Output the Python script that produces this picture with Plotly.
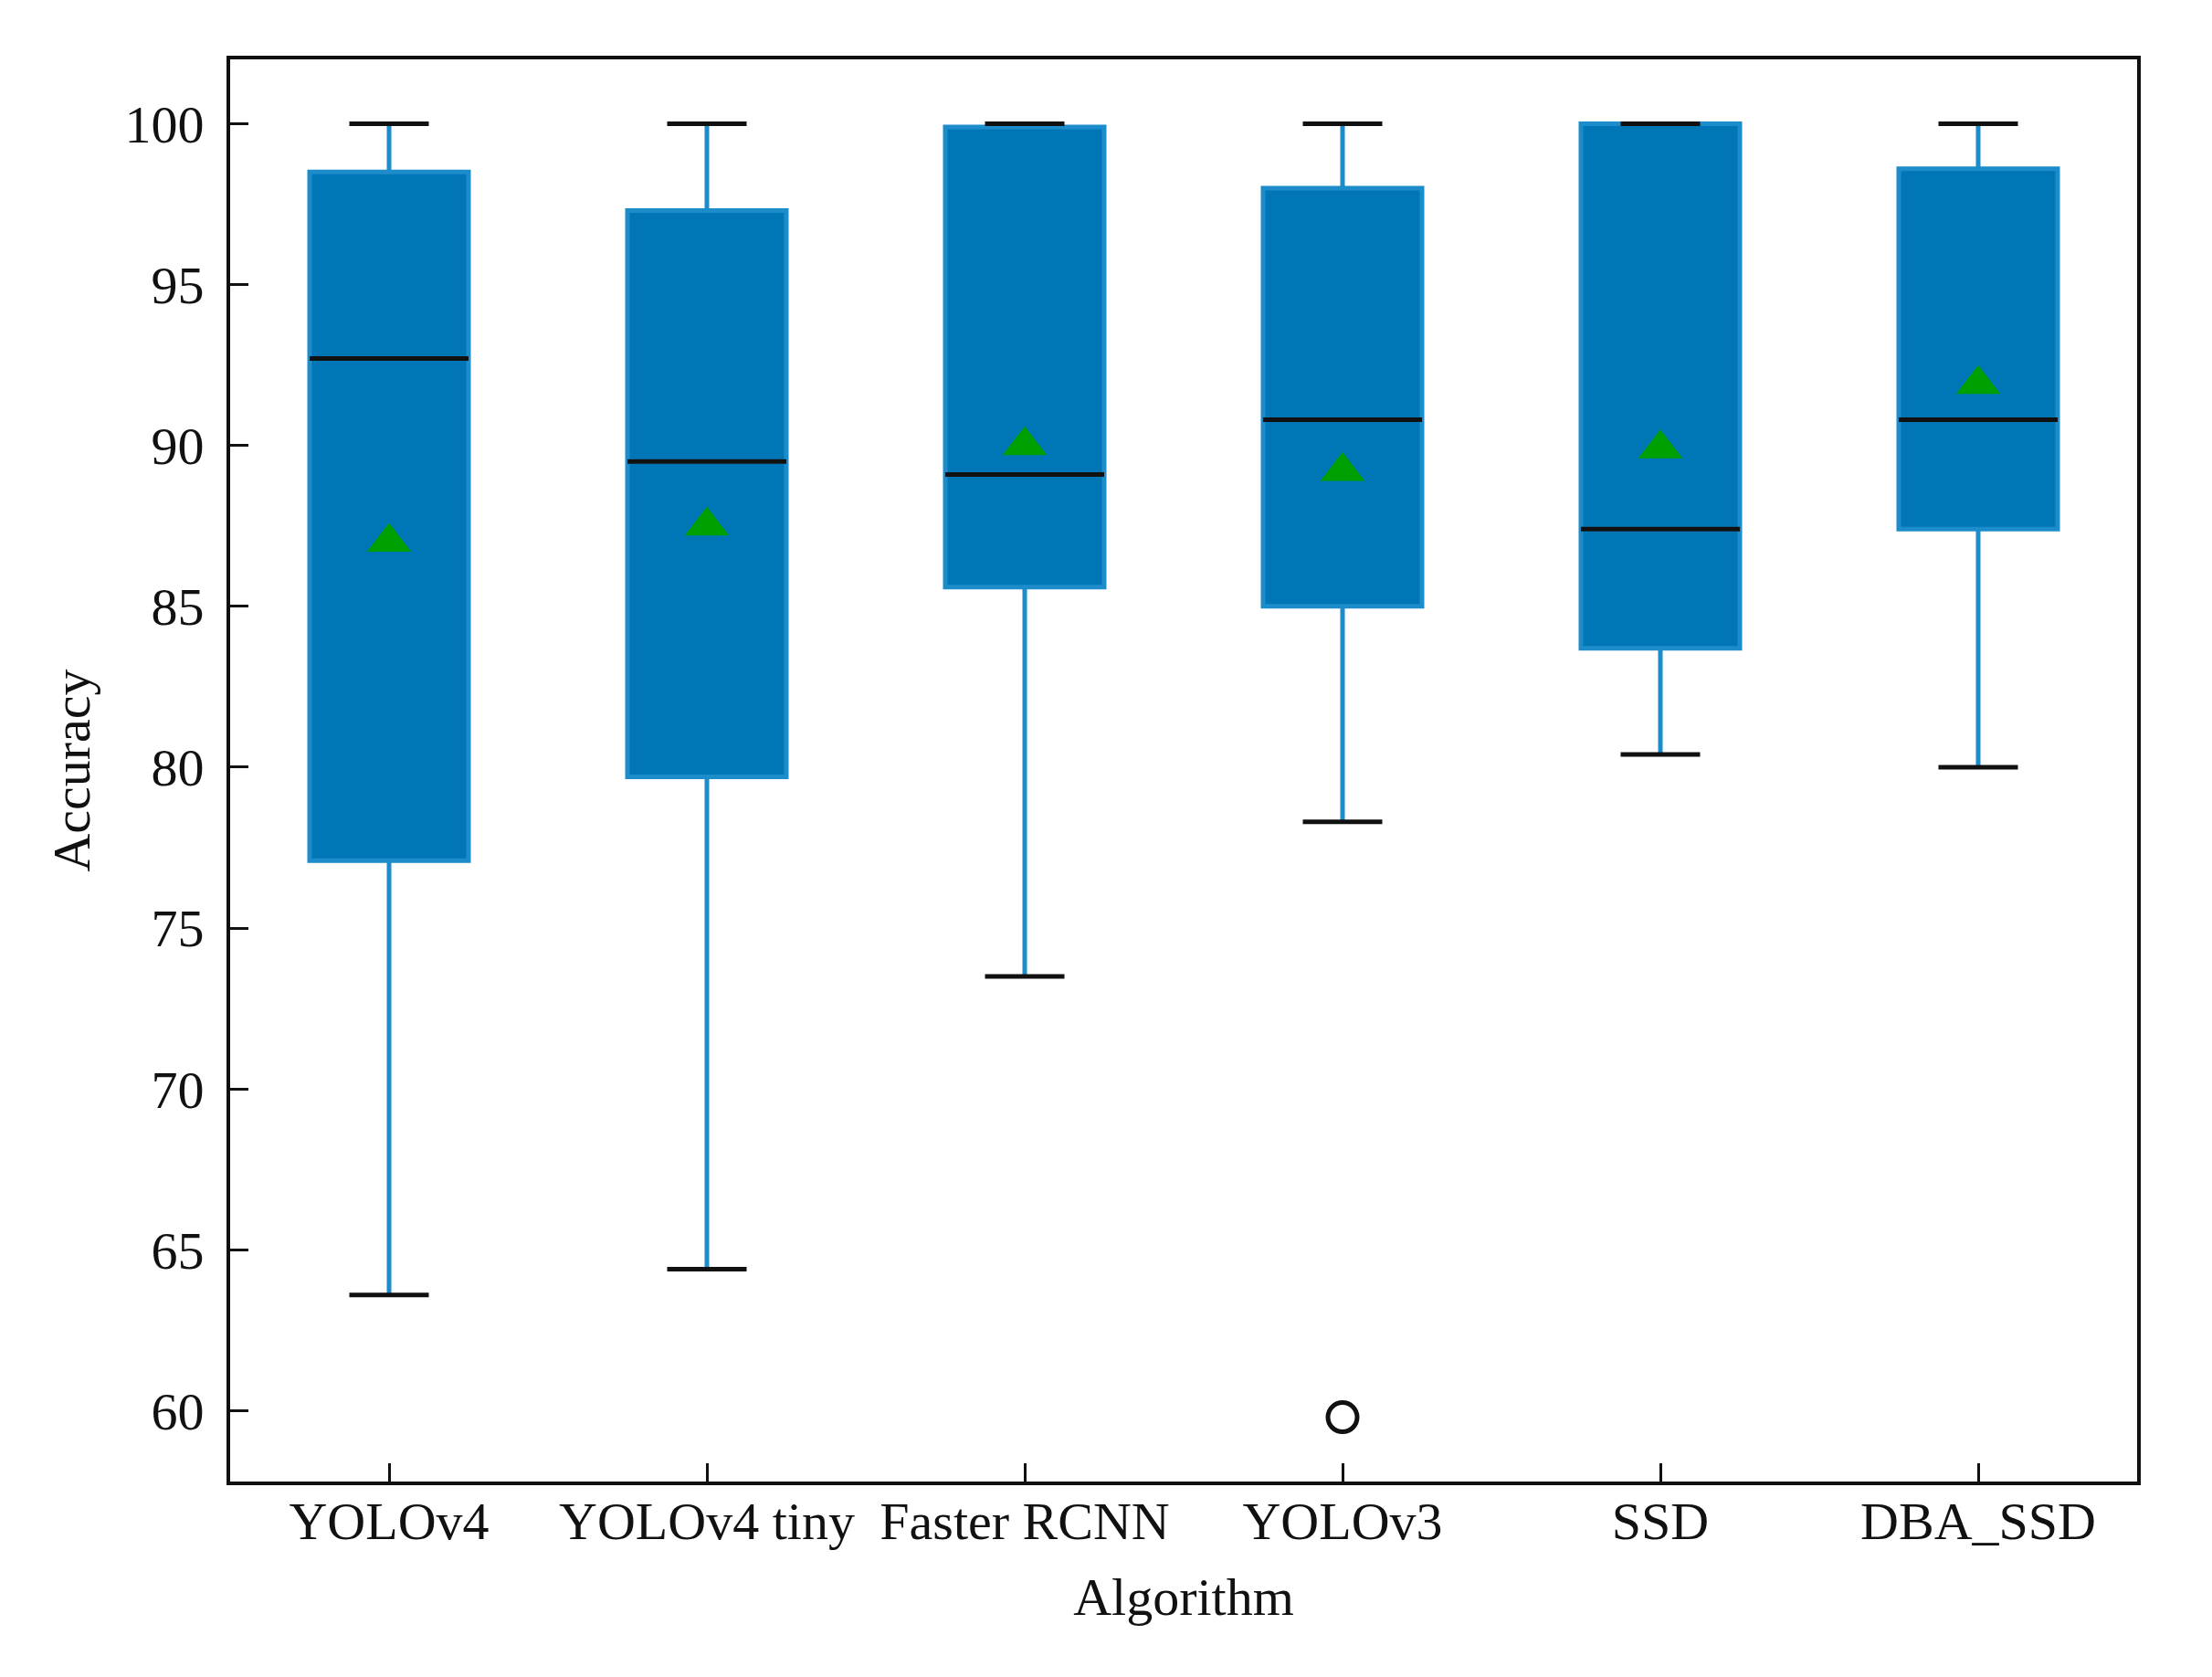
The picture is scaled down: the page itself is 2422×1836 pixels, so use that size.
import plotly.graph_objects as go

categories = ["YOLOv4", "YOLOv4 tiny", "Faster RCNN", "YOLOv3", "SSD", "DBA_SSD"]
lower_whisker = [63.6, 64.4, 73.5, 78.3, 80.4, 80.0]
q1 = [77.1, 79.7, 85.6, 85.0, 83.7, 87.4]
median = [92.7, 89.5, 89.1, 90.8, 87.4, 90.8]
q3 = [98.5, 97.3, 99.9, 98.0, 100.0, 98.6]
upper_whisker = [100.0, 100.0, 100.0, 100.0, 100.0, 100.0]
mean = [87.0, 87.5, 90.0, 89.2, 89.9, 91.9]
outlier_cat = ["YOLOv3"]
outlier_val = [59.8]
y_ticks = [60, 65, 70, 75, 80, 85, 90, 95, 100]

BOX_FILL = "#0076b6"
WHISKER = "#1c8ccb"
BOX_W = 0.5
CAP_W = 0.25

xpos = list(range(len(categories)))

fig = go.Figure()
fig.add_trace(go.Box(
    x=xpos, q1=q1, median=median, q3=q3,
    lowerfence=lower_whisker, upperfence=upper_whisker,
    width=BOX_W, fillcolor=BOX_FILL,
    line=dict(color=WHISKER, width=5),
    whiskerwidth=0, boxpoints=False, showlegend=False,
))

# black median lines
mx, my = [], []
for i, m in zip(xpos, median):
    mx += [i - BOX_W / 2, i + BOX_W / 2, None]
    my += [m, m, None]
fig.add_trace(go.Scatter(x=mx, y=my, mode="lines",
                         line=dict(color="#111111", width=5), showlegend=False))

# black whisker caps
cx, cy = [], []
for i, lo, hi in zip(xpos, lower_whisker, upper_whisker):
    cx += [i - CAP_W / 2, i + CAP_W / 2, None, i - CAP_W / 2, i + CAP_W / 2, None]
    cy += [lo, lo, None, hi, hi, None]
fig.add_trace(go.Scatter(x=cx, y=cy, mode="lines",
                         line=dict(color="#111111", width=5), showlegend=False))

# means
fig.add_trace(go.Scatter(x=xpos, y=mean, mode="markers",
                         marker=dict(symbol="triangle-up", size=42, color="#00a000",
                                     line=dict(width=0)),
                         showlegend=False))

# outliers
ox = [categories.index(c) for c in outlier_cat]
fig.add_trace(go.Scatter(x=ox, y=outlier_val, mode="markers",
                         marker=dict(symbol="circle-open", size=32, color="#111111",
                                     line=dict(width=5, color="#111111")),
                         showlegend=False))

font = dict(family="Liberation Serif", size=58, color="#111111")

fig.update_layout(
    width=2422, height=1836,
    margin=dict(l=244, r=90, t=57, b=222),
    paper_bgcolor="white", plot_bgcolor="white",
    font=font,
    showlegend=False,
)
fig.update_xaxes(
    range=[-0.5, 5.5], tickmode="array", tickvals=xpos, ticktext=categories,
    ticks="inside", ticklen=20, tickwidth=3, tickcolor="#111111",
    showline=True, linecolor="#111111", linewidth=4, mirror=True,
    showgrid=False, zeroline=False, ticklabelstandoff=-11,
    title=dict(text="Algorithm", font=font, standoff=32),
)
fig.update_yaxes(
    range=[57.8, 102.0], tickmode="array", tickvals=y_ticks,
    ticks="inside", ticklen=20, tickwidth=3, tickcolor="#111111",
    showline=True, linecolor="#111111", linewidth=4, mirror=True,
    showgrid=False, zeroline=False, ticklabelstandoff=13,
    title=dict(text="Accuracy", font=font, standoff=20),
)

fig.write_html("out.html")
